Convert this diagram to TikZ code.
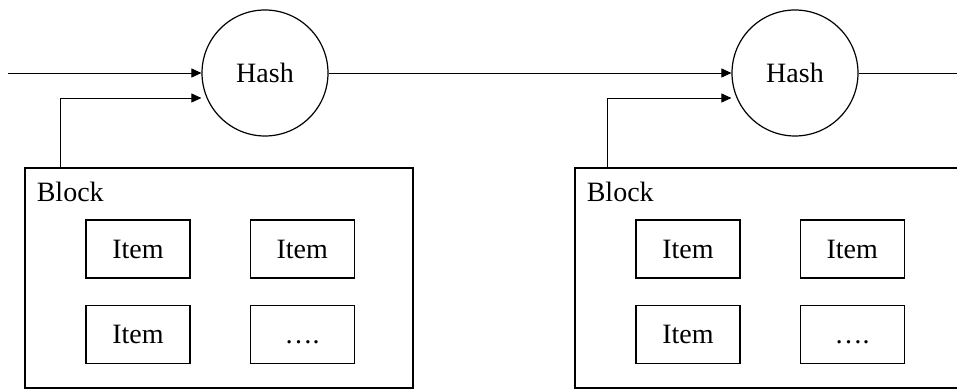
\documentclass[tikz,border=0pt]{standalone}
\usepackage{fontspec}
\setmainfont{Liberation Serif}
\usetikzlibrary{positioning, arrows.meta}

\begin{document}
\begin{tikzpicture}[
        x=0.5pt, y=-0.5pt,
        font=\fontsize{14}{16}\selectfont,
        hash/.style={circle, draw, line width=0.6pt, minimum size=63pt, inner sep=0pt},
        blk/.style={rectangle, draw, line width=0.6pt, minimum width=194pt, minimum height=110pt, inner sep=0pt},
        item/.style={rectangle, draw, line width=0.6pt, minimum width=52pt, minimum height=29pt, inner sep=0pt,
                     text height=9.5pt, text depth=0pt},
        arr/.style={-{Triangle[length=5pt, width=4.5pt]}, line width=0.45pt}
      ]
        \useasboundingbox (0,0) rectangle (957,389);
        % hashes
        \node[hash] (ha) at (265,73) {Hash};
        \node[hash] (hb) at (795,73) {Hash};
        % blocks
        \node[blk] (ba) at (219,278) {};
        \node[blk] (bb) at (769,278) {};
        \node[anchor=base west, inner sep=0pt] (la) at ([xshift=6pt, yshift=-17pt]ba.north west) {Block};
        \node[anchor=base west, inner sep=0pt] (lb) at ([xshift=6pt, yshift=-17pt]bb.north west) {Block};
        % items, left block
        \node[item] (a1) at (138,249) {Item};
        \node[item, right=29.5pt of a1] (a2) {Item};
        \node[item, below=13pt of a1] (a3) {Item};
        \node[item, right=29.5pt of a3] (a4) {….};
        % items, right block
        \node[item] (b1) at (688,249) {Item};
        \node[item, right=29.5pt of b1] (b2) {Item};
        \node[item, below=13pt of b1] (b3) {Item};
        \node[item, right=29.5pt of b3] (b4) {….};
        % chain
        \coordinate (in) at (8,73);
        \coordinate (out) at (957,73);
        \draw[arr] (in) -- (ha.west);
        \draw[arr] (ha.east) -- (hb.west);
        \draw[line width=0.45pt] (hb.east) -- (out);
        \draw[arr] ([xshift=18pt]ba.north west) |- ([yshift=-12.5pt]ha.west);
        \draw[arr] ([xshift=16.5pt]bb.north west) |- ([yshift=-12.5pt]hb.west);
      \end{tikzpicture}
\end{document}
